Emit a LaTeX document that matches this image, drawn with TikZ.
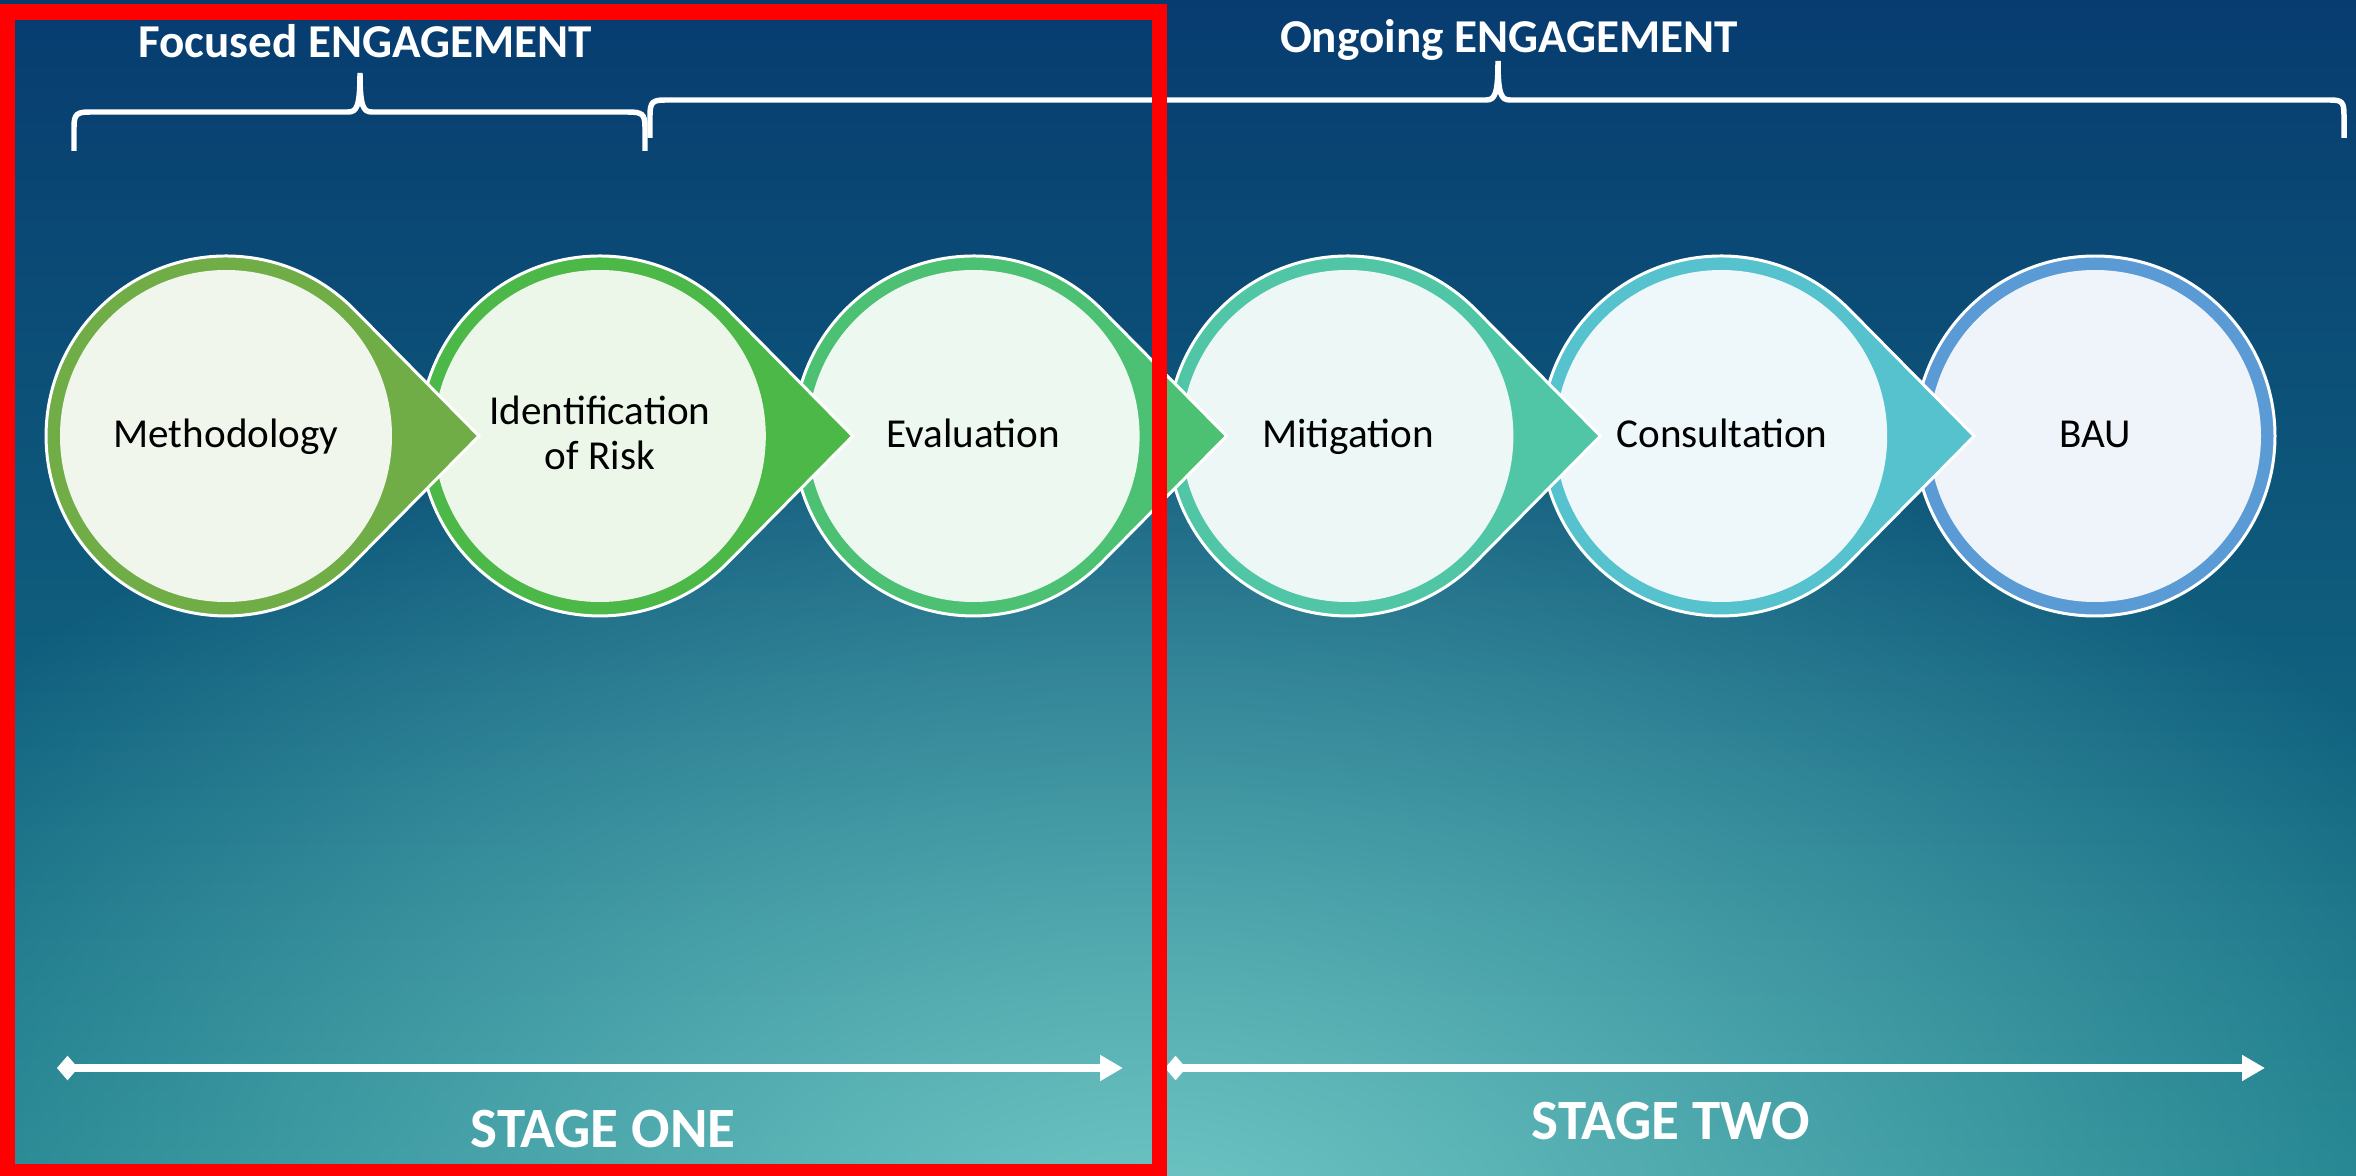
\documentclass[tikz,border=0pt]{standalone}
\usepackage{fontspec}
\setmainfont{Carlito}
\usetikzlibrary{fadings,arrows.meta}
\tikzfading[name=spotfade, inner color=transparent!0, outer color=transparent!100]
\definecolor{bgtop}{RGB}{7,60,112}
\definecolor{bgmid}{RGB}{20,92,138}
\definecolor{bgbot}{RGB}{22,122,136}
\definecolor{spot}{RGB}{112,198,196}
\definecolor{r1}{RGB}{112,173,71}
\definecolor{r2}{RGB}{75,184,72}
\definecolor{r3}{RGB}{76,192,115}
\definecolor{r4}{RGB}{80,198,166}
\definecolor{r5}{RGB}{85,194,206}
\definecolor{r6}{RGB}{91,155,213}
\definecolor{f1}{RGB}{240,246,236}
\definecolor{f2}{RGB}{236,247,234}
\definecolor{f3}{RGB}{237,248,240}
\definecolor{f4}{RGB}{237,248,246}
\definecolor{f5}{RGB}{238,248,250}
\definecolor{f6}{RGB}{239,243,250}
\begin{document}
\begin{tikzpicture}[x=0.01cm,y=-0.01cm,
  lbl/.style={font=\fontsize{11.7}{14}\selectfont, text=black, inner sep=0pt},
  head/.style={font=\fontsize{13.4}{16}\selectfont\bfseries, text=white, inner sep=0pt},
  stage/.style={font=\fontsize{16.2}{19}\selectfont\bfseries, text=white, inner sep=0pt},
  bracepath/.style={draw=white, line width=1.56pt},
  stagearrow/.style={white, line width=2pt, {Diamond[length=6pt,width=7pt]}-{Triangle[length=6.5pt,width=7pt]}},
  ringshape/.style={draw=white, line width=0.85pt}]
\useasboundingbox (0,0) rectangle (2356,1176);
% background
\begin{scope}
\clip (0,0) rectangle (2356,1176);
\shade[top color=bgtop, middle color=bgmid, bottom color=bgbot] (0,0) rectangle (2356,1176);
\fill[spot, path fading=spotfade] (1150,1230) ellipse [x radius=1500, y radius=880];
\end{scope}
% step shapes, drawn right to left
\foreach \i/\rc/\fc/\arr in {5/r6/f6/0,4/r5/f5/1,3/r4/f4/1,2/r3/f3/1,1/r2/f2/1,0/r1/f1/1}{
  \pgfmathsetmacro\cx{226+373.8*\i}
  \ifnum\arr=1
    \filldraw[ringshape, fill=\rc] (\cx+253,436) -- (\cx+128.1,436-126.5) arc[start angle=-44.64, end angle=-315.36, radius=180] -- cycle;
  \else
    \filldraw[ringshape, fill=\rc] (\cx,436) circle[radius=180];
  \fi
  \fill[\fc] (\cx,436) circle[radius=166];
}
% step labels
\node[lbl, anchor=base] (t1) at (226,448) {Methodology};
\node[lbl, anchor=base] (t2a) at (600,425) {Identification};
\node[lbl, anchor=base] (t2b) at (600,470) {of Risk};
\node[lbl, anchor=base] (t3) at (973,448) {Evaluation};
\node[lbl, anchor=base] (t4) at (1348,448) {Mitigation};
\node[lbl, anchor=base] (t5) at (1722,448) {Consultation};
\node[lbl, anchor=base] (t6) at (2095,448) {BAU};
% braces
\draw[bracepath] (74,151) -- (74,127) .. controls (74,114) and (77,112) .. (90,112) -- (348,112) .. controls (357,112) and (360,106) .. (360,73) .. controls (360,106) and (363,112) .. (372,112) -- (628,112) .. controls (642,112) and (645,114) .. (645,127) -- (645,151);
\draw[bracepath] (650,138) -- (650,115) .. controls (650,102) and (653,100) .. (665,100) -- (1486,100) .. controls (1495,100) and (1498,94) .. (1498,61) .. controls (1498,94) and (1501,100) .. (1510,100) -- (2330,100) .. controls (2342,100) and (2344,102) .. (2344,115) -- (2344,138);
% headings
\node[head, anchor=base] (fe) at (365,58) {Focused ENGAGEMENT};
\node[head, anchor=base] (oe) at (1509,53) {Ongoing ENGAGEMENT};
% stage arrows
\coordinate (a1s) at (57,1068);
\coordinate (a1e) at (1123,1068);
\coordinate (a2s) at (1165,1068);
\coordinate (a2e) at (2265,1068);
\draw[stagearrow] (a1s) -- (a1e);
\draw[stagearrow] (a2s) -- (a2e);
\node[stage, anchor=base] (s1) at (603,1147) {STAGE ONE};
\node[stage, anchor=base] (s2) at (1671,1139) {STAGE TWO};
% red frame
\draw[red, line width=4.27pt] (7.5,12) rectangle (1159.5,1172);
\end{tikzpicture}
\end{document}
